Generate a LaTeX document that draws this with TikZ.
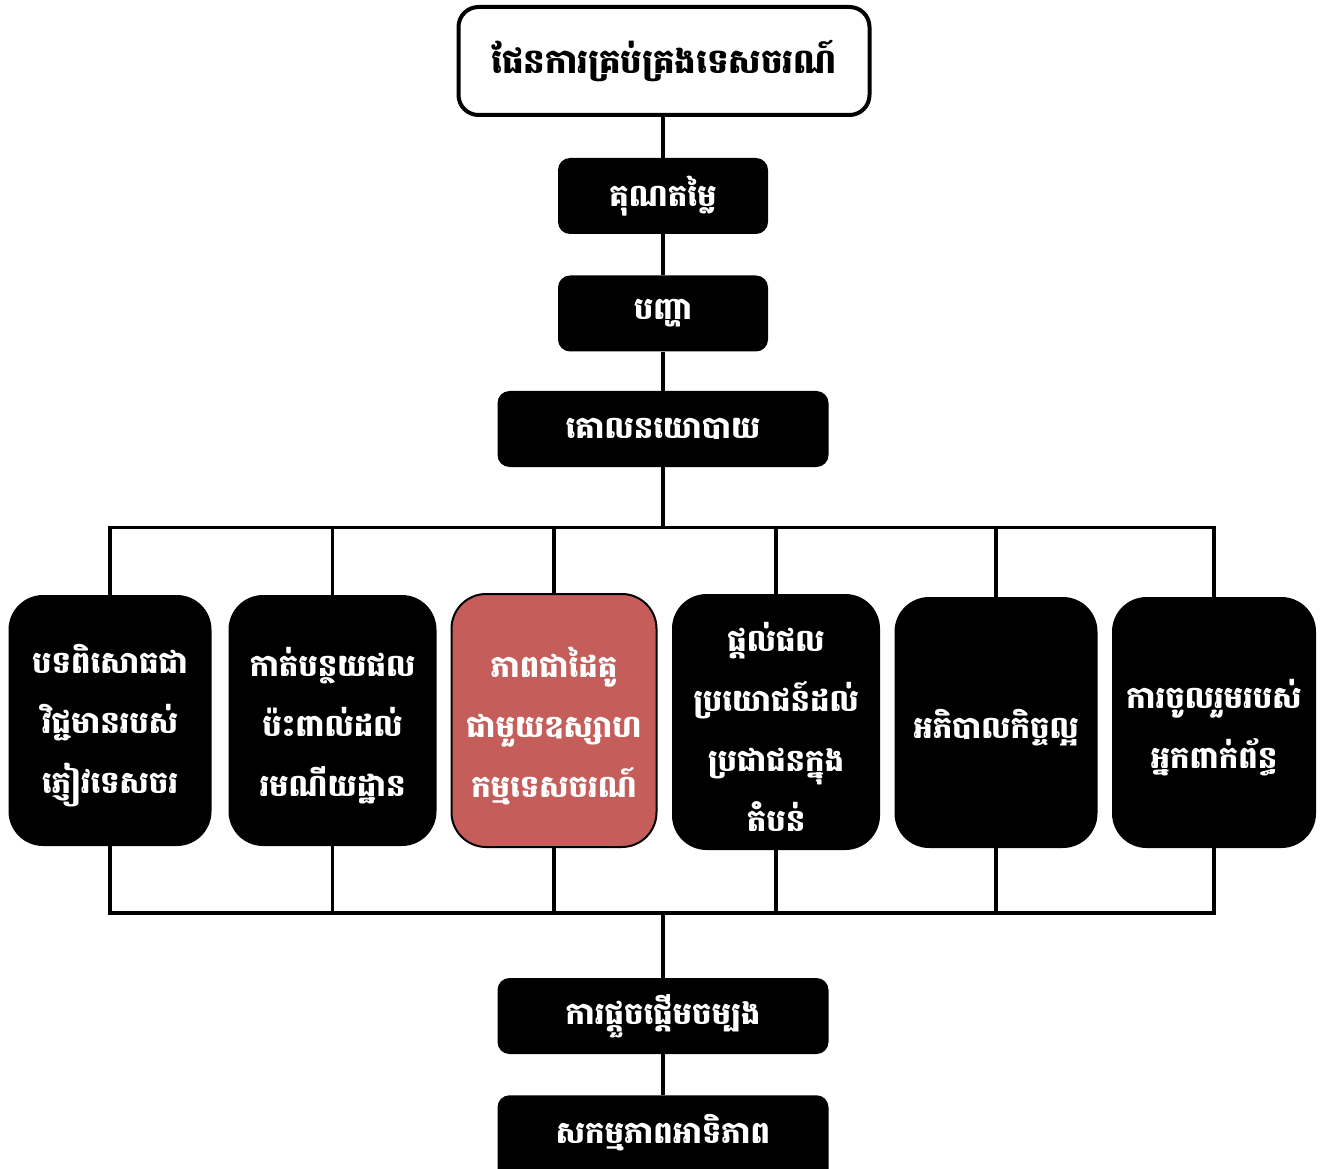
\documentclass[tikz,border=0pt]{standalone}
\usepackage{fontspec}
\newfontfamily\kh[Script=Khmer]{Battambang}
\definecolor{redbox}{RGB}{197,94,91}
\begin{document}
\begin{tikzpicture}[x=0.75pt,y=-0.75pt,
  conn/.style={line width=2.4pt,draw=black},
  topbox/.style={draw=black,fill=white,line width=3pt,rounded corners=15pt,
    minimum width=411*0.75pt,minimum height=108*0.75pt,inner sep=0pt,
    font=\kh\bfseries\fontsize{25.5pt}{30pt}\selectfont},
  darkbox/.style={fill=black,text=white,rounded corners=9pt,inner sep=0pt,
    minimum height=76*0.75pt,font=\kh\bfseries\fontsize{23pt}{26pt}\selectfont},
  colbox/.style={fill=black,text=white,rounded corners=26pt,inner sep=0pt,
    align=center,font=\kh\bfseries\fontsize{23pt}{45pt}\selectfont},
  redcol/.style={colbox,fill=redbox,draw=black,line width=1.5pt},
  txt/.style={text=white,align=center,font=\kh\bfseries\fontsize{23pt}{45pt}\selectfont}]
\useasboundingbox (0,0) rectangle (1324,1169);
\node[topbox] (top) at (664,61) {ផែនការគ្រប់គ្រងទេសចរណ៍};
\node[darkbox,minimum width=210*0.75pt] (v1) at (663,196) {គុណតម្លៃ};
\node[darkbox,minimum width=210*0.75pt] (v2) at (663,313.5) {បញ្ហា};
\node[darkbox,minimum width=331*0.75pt] (v3) at (663,429) {គោលនយោបាយ};
\node[colbox,minimum width=203*0.75pt,minimum height=251*0.75pt] (c1) at (110,720.5) {};
\node[txt] at ([yshift=-4pt]c1.center) {បទពិសោធជា\\វិជ្ជមានរបស់\\ភ្ញៀវទេសចរ};
\node[colbox,minimum width=208*0.75pt,minimum height=251*0.75pt] (c2) at (332.5,720.5) {};
\node[txt] at ([yshift=-4pt]c2.center) {កាត់បន្ថយផល\\ប៉ះពាល់ដល់\\រមណីយដ្ឋាន};
\node[redcol,minimum width=205*0.75pt,minimum height=253*0.75pt] (c3) at (554,720.5) {};
\node[txt] at ([yshift=-4pt]c3.center) {ភាពជាដៃគូ\\ជាមួយឧស្សាហ\\កម្មទេសចរណ៍};
\node[colbox,minimum width=208*0.75pt,minimum height=256*0.75pt] (c4) at (776,722) {};
\node[txt] at ([yshift=-4pt]c4.center) {ផ្តល់ផល\\ប្រយោជន៍ដល់\\ប្រជាជនក្នុង\\តំបន់};
\node[colbox,minimum width=203*0.75pt,minimum height=251*0.75pt] (c5) at (996,722.5) {};
\node[txt] at ([yshift=-4pt]c5.center) {អភិបាលកិច្ចល្អ};
\node[colbox,minimum width=204*0.75pt,minimum height=251*0.75pt] (c6) at (1214,722.5) {};
\node[txt] at ([yshift=-4pt]c6.center) {ការចូលរួមរបស់\\អ្នកពាក់ព័ន្ធ};
\node[darkbox,minimum width=331*0.75pt] (i1) at (663,1016) {ការផ្តួចផ្តើមចម្បង};
\node[darkbox,minimum width=331*0.75pt,minimum height=90*0.75pt,anchor=north] (i2) at (663,1095) {};
\node[text=white,font=\kh\bfseries\fontsize{23pt}{26pt}\selectfont] (i2t) at (663,1133) {សកម្មភាពអាទិភាព};
\coordinate (tb) at (663,527.5);
\coordinate (bb) at (663,913);
\draw[conn] (v1.north |- top.south) -- (v1.north);
\draw[conn] (v1.south) -- (v2.north);
\draw[conn] (v2.south) -- (v3.north);
\draw[conn] (v3.south) -- (tb);
\draw[conn] ([xshift=-1.2pt]c1.north |- tb) -- ([xshift=1.2pt]c6.north |- tb);
\draw[conn] (bb) -- (i1.north);
\draw[conn] (i1.south) -- (i2.north);
\draw[conn] ([xshift=-1.2pt]c1.north |- bb) -- ([xshift=1.2pt]c6.north |- bb);
\foreach \c in {c1,c2,c3,c4,c5,c6}{
  \draw[conn] (\c.north |- tb) -- (\c.north);
  \draw[conn] (\c.south) -- (\c.south |- bb);
}
\end{tikzpicture}
\end{document}
